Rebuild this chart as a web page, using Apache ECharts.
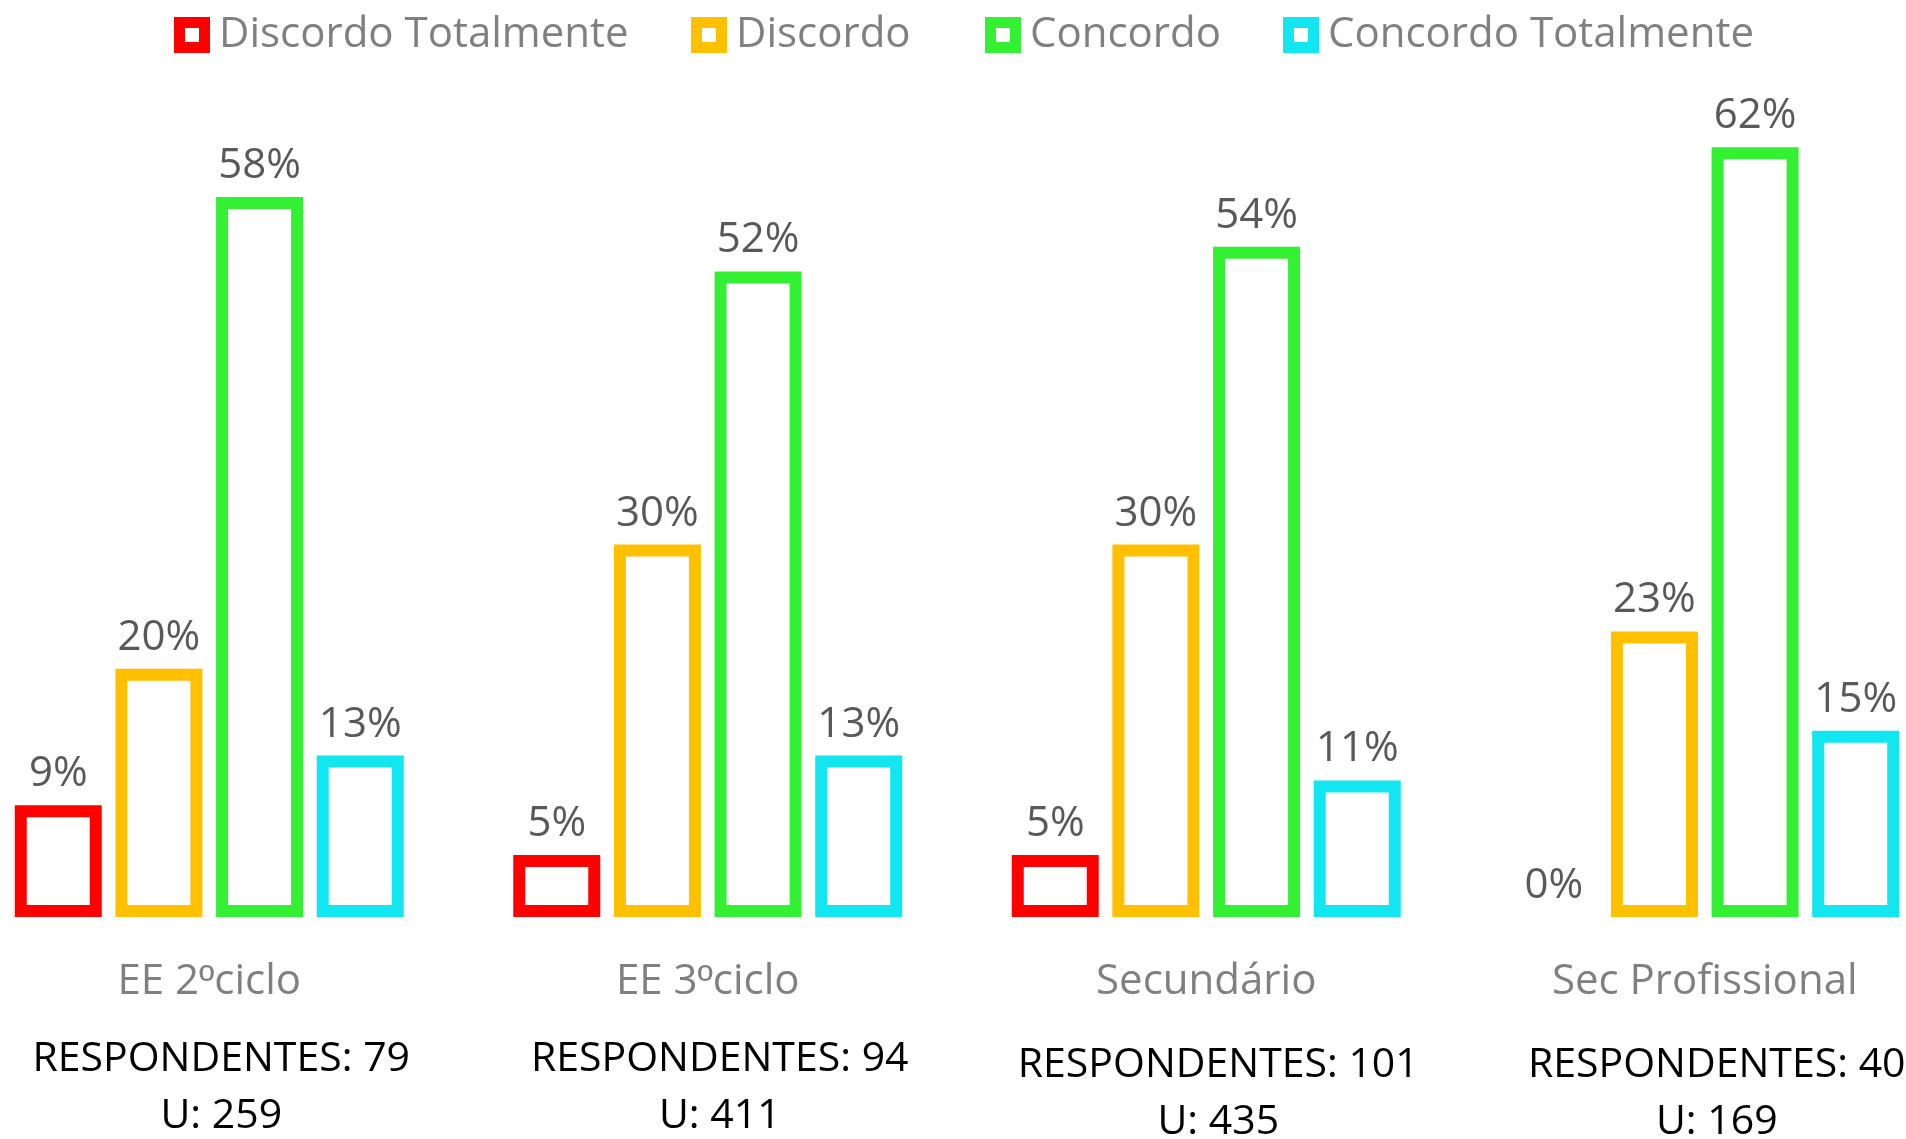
<!DOCTYPE html>
<html>
<head>
<meta charset="utf-8">
<script src="https://cdn.jsdelivr.net/npm/echarts@6/dist/echarts.min.js"></script>
<style>
html, body { margin: 0; padding: 0; background: #fff; }
#chart { width: 1906px; height: 1139px; }
</style>
</head>
<body>
<div id="chart"></div>
<script>
// dados
const categorias = ['EE 2ºciclo', 'EE 3ºciclo', 'Secundário', 'Sec Profissional'];
const nomesSeries = ['Discordo Totalmente', 'Discordo', 'Concordo', 'Concordo Totalmente'];
const discordoTotalmente = [9, 5, 5, 0];
const discordo = [20, 30, 30, 23];
const concordo = [58, 52, 54, 62];
const concordoTotalmente = [13, 13, 11, 15];
const respondentes = [79, 94, 101, 40];
const unidades = [259, 411, 435, 169];

const cores = ['#FF0000', '#FFC000', '#33F033', '#12E6F0'];
const valores = [discordoTotalmente, discordo, concordo, concordoTotalmente];
const fonte = 'Open Sans';

let chart = echarts.init(document.getElementById('chart'));

// quadrado vazado para a legenda
const iconeLegenda = 'path://M0,0H36V36H0Z M11,11V25H25V11Z';

// cada legenda separada para acertar a posição
const legendLefts = [174, 691, 985, 1283];
let legends = nomesSeries.map(function (nome, i) {
  return {
    data: [nome],
    left: legendLefts[i],
    top: 14,
    padding: 0,
    itemWidth: 36,
    itemHeight: 36,
    icon: iconeLegenda,
    itemStyle: { color: cores[i], borderWidth: 0 },
    textStyle: { fontFamily: fonte, fontSize: 42, color: '#808080', padding: [0, 0, 0, 4] },
    selectedMode: false
  };
});

let series = nomesSeries.map(function (nome, i) {
  return {
    name: nome,
    type: 'bar',
    barWidth: 87,
    barGap: '15.7%',
    itemStyle: { color: '#fff', borderColor: cores[i], borderWidth: 12 },
    label: {
      show: true,
      position: 'top',
      distance: 10,
      formatter: '{c}%',
      fontFamily: fonte,
      fontSize: 42,
      color: '#595959'
    },
    data: valores[i].map(function (v) {
      // barra de 0% não mostra contorno
      return v === 0 ? { value: v, itemStyle: { borderWidth: 0 } } : v;
    })
  };
});

const estiloResp = { fontFamily: fonte, fontSize: 41, color: '#000' };
const estiloCat = { fontFamily: fonte, fontSize: 42, lineHeight: 50, color: '#808080' };

let option = {
  animation: false,
  backgroundColor: '#fff',
  legend: legends,
  grid: {
    left: -40,
    right: -48,
    top: 48,
    bottom: 222,
    containLabel: false,
    outerBoundsMode: 'none'
  },
  xAxis: [
    {
      type: 'category',
      data: categorias,
      axisLine: { show: false },
      axisTick: { show: false },
      axisLabel: Object.assign({
        interval: 0,
        margin: 40,
        rich: {
          t: estiloCat,
          // º sublinhado como no original
          o: Object.assign({}, estiloCat, { fontFamily: 'Liberation Sans' })
        },
        formatter: function (v) {
          return v.split('º').map(function (p) { return p ? '{t|' + p + '}' : ''; }).join('{o|º}');
        }
      }, estiloCat)
    },
    {
      type: 'category',
      data: categorias,
      position: 'bottom',
      offset: 0,
      axisLine: { show: false },
      axisTick: { show: false },
      axisLabel: {
        interval: 0,
        hideOverlap: false,
        margin: 114,
        padding: [0, 0, 0, 24],
        fontFamily: fonte,
        fontSize: 41,
        color: '#000',
        rich: {
          r1: Object.assign({ lineHeight: 57 }, estiloResp),
          r2: Object.assign({ lineHeight: 57 }, estiloResp),
          b1: Object.assign({ lineHeight: 69 }, estiloResp),
          b2: Object.assign({ lineHeight: 45 }, estiloResp)
        },
        formatter: function (v, i) {
          let k = i < 2 ? 'r' : 'b';
          return '{' + k + '1|RESPONDENTES: ' + respondentes[i] + '}\n{' + k + '2|U: ' + unidades[i] + '}';
        }
      }
    }
  ],
  yAxis: {
    type: 'value',
    min: 0,
    max: 70,
    show: false,
    splitLine: { show: false }
  },
  series: series
};

chart.setOption(option);
</script>
</body>
</html>
